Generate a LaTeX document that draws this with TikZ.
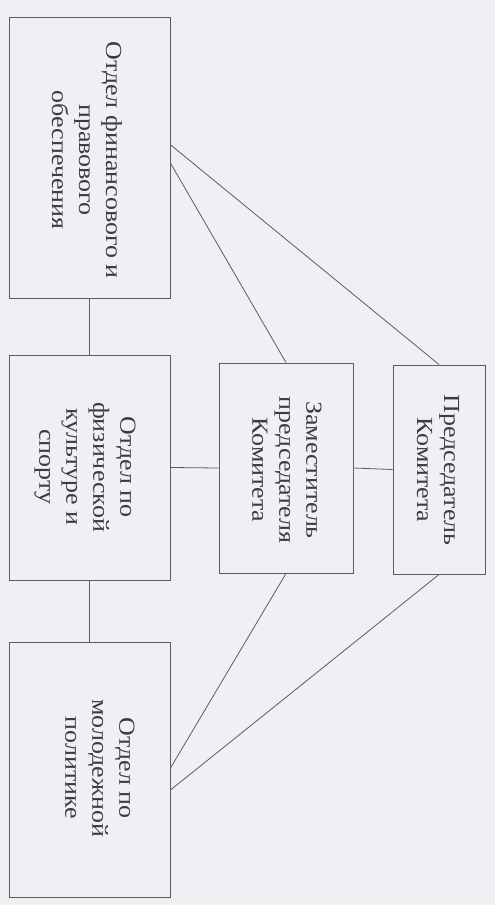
\documentclass[tikz,border=0pt]{standalone}
\usepackage{fontspec}
\setmainfont{Liberation Serif}
\newfontfamily\widefont[FakeStretch=1.13]{Liberation Serif}
\usetikzlibrary{calc}
\definecolor{bg}{HTML}{EFF0F4}
\definecolor{ln}{HTML}{5C5C5C}
\definecolor{tx}{HTML}{3C3C3C}
\tikzset{
  box/.style={draw=ln, line width=1pt, inner sep=0pt, fill=none},
  lbl/.style={rotate=-90, align=center, text=tx, inner sep=0pt, font=\widefont\fontsize{23}{27}\selectfont},
  conn/.style={draw=ln, line width=0.8pt}
}
\begin{document}
\begin{tikzpicture}[x=1pt,y=-1pt]
\fill[bg] (0,0) rectangle (495,905);
\useasboundingbox (0,0) rectangle (495,905);
% boxes
\node[box, minimum width=161pt, minimum height=281pt] (b1) at (89.5,157.5) {};
\node[box, minimum width=161pt, minimum height=225pt] (b2) at (89.5,467.5) {};
\node[box, minimum width=161pt, minimum height=255pt] (b3) at (89.5,769.5) {};
\node[box, minimum width=134pt, minimum height=210pt] (b4) at (286,468) {};
\node[box, minimum width=92pt, minimum height=209pt] (b5) at (439,469.5) {};
% labels
\node[lbl] (t1) at (87,160) {Отдел финансового и\\правового\\обеспечения};
\node[lbl] (t2) at (85,467) {Отдел по\\физической\\культуре и\\спорту};
\node[lbl] (t3) at (100,768) {Отдел по\\молодежной\\политике};
\node[lbl] (t4) at (287,470) {Заместитель\\председателя\\Комитета};
\node[lbl] (t5) at (438,470) {Председатель\\Комитета};
% connectors
\draw[conn] (b1.south) -- (b2.north);
\draw[conn] (b2.south) -- (b3.north);
\draw[conn] (b2.east) -- (b4.west);
\draw[conn] (b4.east) -- (b5.west);
\draw[conn] ($(b1.north east)!0.52!(b1.south east)$) -- (b4.north);
\draw[conn] ($(b1.north east)!0.455!(b1.south east)$) -- (b5.north);
\draw[conn] (b4.south) -- ($(b3.north east)!0.494!(b3.south east)$);
\draw[conn] (b5.south) -- ($(b3.north east)!0.58!(b3.south east)$);
\end{tikzpicture}
\end{document}
